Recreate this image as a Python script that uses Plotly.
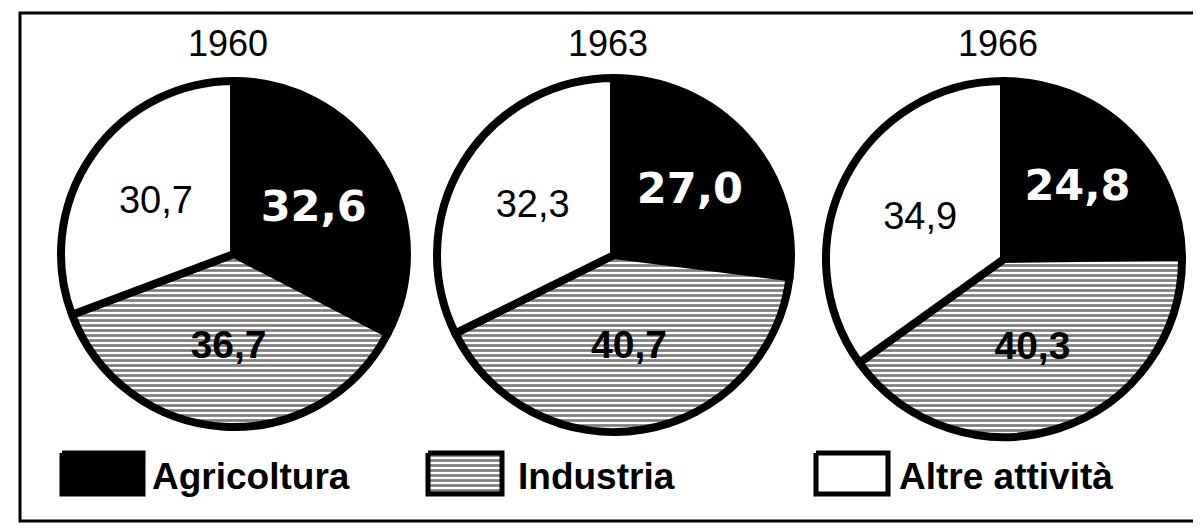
import plotly.graph_objects as go

W, H = 1201, 528
OFF = 8  # page body margin of the written html

# ---- data ----
years = ["1960", "1963", "1966"]
sectors = ["Agricoltura", "Industria", "Altre attività"]
agricoltura = [32.6, 27.0, 24.8]
industria = [36.7, 40.7, 40.3]
altre = [30.7, 32.3, 34.9]

# ---- layout helpers (page pixel geometry) ----
pie_centers = [(234, 254), (614, 255), (1004, 259)]
pie_radius = [173, 177, 178]


def px_x(x):
    return (x - OFF) / W


def px_y(y):
    return 1 - (y - OFF) / H


def fmt(v):
    return f"{v:.1f}".replace(".", ",")


fig = go.Figure()

for i, yr in enumerate(years):
    vals = [agricoltura[i], industria[i], altre[i]]
    cx, cy = pie_centers[i]
    r = pie_radius[i]
    texts = ["<b>" + fmt(vals[0]) + "</b>", "<b>" + fmt(vals[1]) + "</b>", fmt(vals[2])]
    fig.add_trace(go.Pie(
        labels=sectors,
        values=vals,
        text=texts,
        textinfo="text",
        textposition="inside",
        insidetextorientation="horizontal",
        sort=False,
        direction="clockwise",
        rotation=0,
        hole=0,
        showlegend=False,
        marker=dict(
            colors=["black", "white", "white"],
            line=dict(color="black", width=8),
            pattern=dict(shape=["", "-", ""], fgcolor="black", bgcolor="white",
                         size=5, solidity=0.55, fillmode="overlay"),
        ),
        textfont=dict(family=["DejaVu Sans", "Liberation Sans", "Liberation Sans"],
                      color=["white", "black", "black"], size=[43, 39, 38]),
        domain=dict(x=[px_x(cx - r), px_x(cx + r)], y=[px_y(cy + r), px_y(cy - r)]),
        hoverinfo="label+value",
    ))
    fig.add_annotation(x=px_x(cx - 6), y=px_y(44), xref="paper", yref="paper",
                       text=yr, showarrow=False, xanchor="center", yanchor="middle",
                       font=dict(family="Liberation Sans, Arial, sans-serif", size=36, color="black"))

# ---- legend swatches drawn on a hidden pixel-space axis ----
legend_boxes = [(62, 143), (428, 502), (816, 888)]
legend_text_x = [150, 516, 897]
box_top, box_bot = 453, 494
swatch_fill = ["black", "white", "white"]
swatch_pattern = ["", "-", ""]

for j, name in enumerate(sectors):
    x0, x1 = legend_boxes[j]
    fig.add_trace(go.Scatter(
        x=[x0, x1, x1, x0, x0], y=[box_top, box_top, box_bot, box_bot, box_top],
        mode="lines", fill="toself", fillcolor=swatch_fill[j],
        fillpattern=dict(shape=swatch_pattern[j], fgcolor="black", bgcolor="white",
                         size=5, solidity=0.55, fillmode="overlay") if swatch_pattern[j] else None,
        line=dict(color="black", width=5), showlegend=False, hoverinfo="skip",
        xaxis="x", yaxis="y",
    ))
    fig.add_annotation(x=legend_text_x[j], y=476, xref="x", yref="y", text="<b>" + name + "</b>",
                       showarrow=False, xanchor="left", yanchor="middle",
                       font=dict(family="Liberation Sans, Arial, sans-serif", size=37, color="black"))

# frame
fig.add_shape(type="rect", xref="paper", yref="paper",
              x0=px_x(20), x1=px_x(1198), y0=px_y(521), y1=px_y(13),
              line=dict(color="black", width=3), fillcolor="rgba(0,0,0,0)", layer="below")

fig.update_layout(
    width=W, height=H,
    margin=dict(l=0, r=0, t=0, b=0),
    paper_bgcolor="white", plot_bgcolor="rgba(0,0,0,0)",
    xaxis=dict(range=[OFF, W + OFF], domain=[0, 1], visible=False, fixedrange=True),
    yaxis=dict(range=[H + OFF, OFF], domain=[0, 1], visible=False, fixedrange=True),
    showlegend=False,
)

fig.write_html("out.html")
